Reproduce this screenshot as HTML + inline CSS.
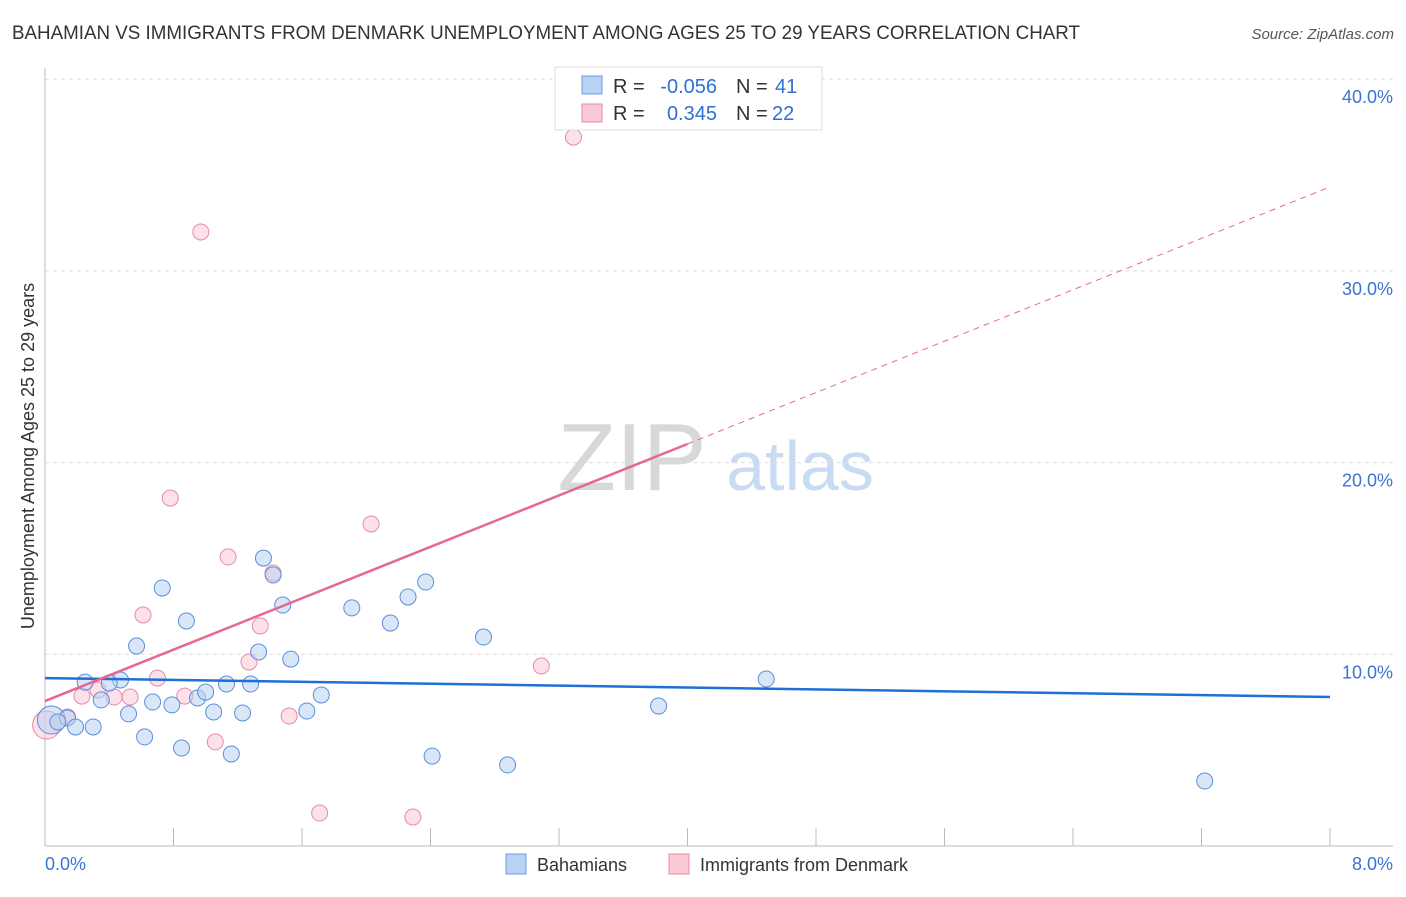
<!DOCTYPE html>
<html><head><meta charset="utf-8"><style>
body{margin:0;background:#fff;font-family:"Liberation Sans",sans-serif}
svg text{font-family:"Liberation Sans",sans-serif}
</style></head><body>
<svg id="c" width="1406" height="892">
<text x="12" y="39" font-size="19" fill="#333" textLength="1068" lengthAdjust="spacingAndGlyphs">BAHAMIAN VS IMMIGRANTS FROM DENMARK UNEMPLOYMENT AMONG AGES 25 TO 29 YEARS CORRELATION CHART</text>
<text x="1394" y="39" font-size="15" fill="#555" text-anchor="end" font-style="italic">Source: ZipAtlas.com</text>
<text x="632" y="490" font-size="96" fill="#d8d8d8" font-family="Liberation Serif" text-anchor="middle">ZIP</text>
<text x="800" y="490" font-size="70" fill="#c9daf3" text-anchor="middle">atlas</text>
<text transform="translate(34,456) rotate(-90)" font-size="18" fill="#333" text-anchor="middle">Unemployment Among Ages 25 to 29 years</text>
<g id="grid"></g><g id="marks"></g>
<g>
<rect x="555" y="67" width="267" height="63" fill="#fff" stroke="#ddd"/>
<rect x="582" y="76" width="20" height="18" fill="#b9d1f3" stroke="#6a9be0"/>
<rect x="582" y="104" width="20" height="18" fill="#f9c9d6" stroke="#e88aa7"/>
<text x="613" y="93" font-size="20" fill="#333">R =</text>
<text x="717" y="93" font-size="20" fill="#2f6fd6" text-anchor="end">-0.056</text>
<text x="736" y="93" font-size="20" fill="#333">N =</text>
<text x="775" y="93" font-size="20" fill="#2f6fd6">41</text>
<text x="613" y="120" font-size="20" fill="#333">R =</text>
<text x="717" y="120" font-size="20" fill="#2f6fd6" text-anchor="end">0.345</text>
<text x="736" y="120" font-size="20" fill="#333">N =</text>
<text x="772" y="120" font-size="20" fill="#2f6fd6">22</text>
</g>
<g>
<rect x="506" y="854" width="20" height="20" fill="#b9d1f3" stroke="#6a9be0"/>
<text x="537" y="871" font-size="18" fill="#333">Bahamians</text>
<rect x="669" y="854" width="20" height="20" fill="#f9c9d6" stroke="#e88aa7"/>
<text x="700" y="871" font-size="18" fill="#333">Immigrants from Denmark</text>
</g>
</svg>
<script>
const yTicks=[10,20,30,40];
const xTickLabels=["0.0%","8.0%"];
const blueX=[0.04,0.14,0.19,0.30,0.25,0.35,0.47,0.52,0.57,0.62,0.67,0.73,0.79,0.85,0.88,0.95,1.00,1.05,1.13,1.16,1.23,1.28,1.33,1.36,1.42,1.48,1.53,1.63,1.72,1.91,2.15,2.26,2.37,2.41,2.73,2.88,3.82,4.49,7.22,0.08,0.40];
const blueY=[6.57,6.68,6.21,6.21,8.55,7.62,8.66,6.89,10.43,5.69,7.51,13.46,7.36,5.11,11.74,7.72,8.03,6.99,8.45,4.80,6.94,8.45,10.12,15.02,14.14,12.57,9.75,7.04,7.88,12.42,11.63,12.99,13.77,4.69,10.90,4.23,7.30,8.71,3.39,6.47,8.50];
const pinkX=[0.01,0.14,0.23,0.33,0.43,0.53,0.61,0.70,0.78,0.87,0.97,1.06,1.14,1.27,1.34,1.42,1.52,1.71,2.03,2.29,3.09,3.29];
const pinkY=[6.31,6.73,7.82,8.14,7.77,7.77,12.05,8.76,18.15,7.82,32.03,5.43,15.08,9.60,11.48,14.24,6.78,1.72,16.80,1.51,9.39,36.98];
const blueTrend=[8.76,7.77];
const pinkTrend=[7.56,34.38];
const pinkSolidEnd=4.0;
const X=v=>45+v/8*1285, Y=v=>846-v*19.17;
const NS="http://www.w3.org/2000/svg";
const grid=document.getElementById('grid'), marks=document.getElementById('marks');
function mk(tag,attrs,parent){const e=document.createElementNS(NS,tag);for(const k in attrs)e.setAttribute(k,attrs[k]);parent.appendChild(e);return e;}
yTicks.forEach(t=>{
 const l=mk('line',{x1:45,x2:1393,y1:Y(t),y2:Y(t),stroke:'#ddd','stroke-dasharray':'4,4'},grid);
 
 
 const tx=mk('text',{x:1393,y:Y(t)+24,'font-size':18,fill:'#3b73d6','text-anchor':'end'},grid);
 tx.textContent=t.toFixed(1)+'%';
 
 
});
const ax=mk('line',{x1:45,x2:1393,y1:846,y2:846,stroke:'#bbb'},grid);


const ay=mk('line',{x1:45,x2:45,y1:68,y2:846,stroke:'#bbb'},grid);


for(let i=1;i<=10;i++){
 const tk=mk('line',{x1:X(i*0.8),x2:X(i*0.8),y1:828,y2:846,stroke:'#bbb'},grid);
 
 
}
[[0,'start',45],[8,'end',1393]].forEach((a,i)=>{
 const tx=mk('text',{x:a[2],y:870,'font-size':18,fill:'#3b73d6','text-anchor':a[1]},grid);
 tx.textContent=xTickLabels[i];
 
 
});
function dots(xs,ys,fill,stroke,name){
 xs.forEach((x,i)=>{
  const c=mk('circle',{cx:X(x),cy:Y(ys[i]),r:i===0?14:8,fill:fill,'fill-opacity':0.55,stroke:stroke,'stroke-width':1},marks);
  
  
 });
}
dots(pinkX,pinkY,'#f9c9d6','#e88aa7','point-denmark');
dots(blueX,blueY,'#b9d1f3','#5a8fde','point-bahamian');
const bt=mk('line',{x1:X(0),y1:Y(blueTrend[0]),x2:X(8),y2:Y(blueTrend[1]),stroke:'#1f6fd6','stroke-width':2.5},marks);


const pm=pinkTrend[0]+(pinkTrend[1]-pinkTrend[0])*pinkSolidEnd/8;
const ps=mk('line',{x1:X(0),y1:Y(pinkTrend[0]),x2:X(pinkSolidEnd),y2:Y(pm),stroke:'#e6688f','stroke-width':2.5},marks);


const pd=mk('line',{x1:X(pinkSolidEnd),y1:Y(pm),x2:X(8),y2:Y(pinkTrend[1]),stroke:'#e6688f','stroke-width':1,'stroke-dasharray':'6,5'},marks);


</script>
</body></html>
